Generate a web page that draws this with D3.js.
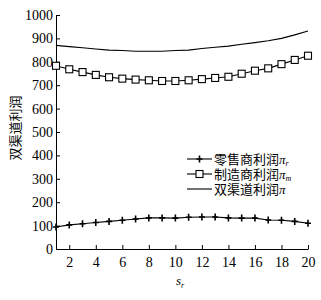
<!DOCTYPE html>
<html>
<head>
<meta charset="utf-8">
<script src="https://cdn.jsdelivr.net/npm/d3@7"></script>
<style>
  body { margin: 0; background: #fff; }
  svg text { font-family: "Liberation Serif", "Times New Roman", serif; }
</style>
</head>
<body>
<div id="chart-area"></div>
<script>
const sr = d3.range(1, 21);
const retail = [94, 103, 108, 113, 118, 123, 128, 133, 133, 132, 136, 137, 137, 133, 132, 132, 124, 123, 118, 110];
const manuf = [783, 768, 756, 744, 734, 728, 724, 721, 718, 718, 721, 726, 731, 736, 749, 762, 772, 790, 808, 826];
const total = [870, 865, 860, 855, 850, 848, 845, 845, 845, 848, 850, 857, 862, 867, 875, 882, 890, 900, 915, 932];
const xTicks = [2, 4, 6, 8, 10, 12, 14, 16, 18, 20];
const yTicks = [0, 100, 200, 300, 400, 500, 600, 700, 800, 900, 1000];
const legendNames = ["零售商利润", "制造商利润", "双渠道利润"];

const margin = { left: 56, right: 13, top: 15, bottom: 51 },
  width = 321 - margin.left - margin.right,
  height = 300 - margin.top - margin.bottom;

let svg = d3.select('#chart-area')
  .append('svg')
  .attr('width', 321)
  .attr('height', 300);

let g = svg.append('g')
  .attr('transform', `translate(${margin.left}, ${margin.top})`);

const x = d3.scaleLinear().domain([1, 20]).range([0, width]);
const y = d3.scaleLinear().domain([0, 1000]).range([height, 0]);

// axes, ticks pointing inward
g.append('g')
  .attr('transform', `translate(0,${height})`)
  .call(d3.axisBottom(x).tickValues(xTicks).tickSizeInner(-4).tickSizeOuter(0).tickPadding(8))
  .attr('font-family', null)
  .call(a => a.selectAll('text').attr('font-size', 14).attr('fill', '#000'));

g.append('g')
  .call(d3.axisLeft(y).tickValues(yTicks).tickFormat(d3.format('d')).tickSizeInner(-4).tickSizeOuter(0).tickPadding(3))
  .attr('font-family', null)
  .call(a => a.selectAll('text').attr('font-size', 14).attr('fill', '#000'));

g.selectAll('.domain, .tick line').attr('stroke', '#000').attr('stroke-width', 1);

const line = d3.line().x((d, i) => x(sr[i])).y(d => y(d));

[retail, manuf, total].forEach(s => {
  g.append('path')
    .attr('d', line(s))
    .attr('fill', 'none')
    .attr('stroke', '#000')
    .attr('stroke-width', 1.1);
});

function plus(sel, cx, cy) {
  sel.append('path')
    .attr('d', `M${cx - 3},${cy}H${cx + 3}M${cx},${cy - 3.5}V${cy + 3.5}`)
    .attr('stroke', '#000')
    .attr('stroke-width', 1.6);
}
function square(sel, cx, cy) {
  sel.append('rect')
    .attr('x', cx - 3.5).attr('y', cy - 3.5)
    .attr('width', 7).attr('height', 7)
    .attr('fill', '#fff')
    .attr('stroke', '#000')
    .attr('stroke-width', 1.1);
}

retail.forEach((d, i) => plus(g, x(sr[i]), y(d)));
manuf.forEach((d, i) => square(g, x(sr[i]), y(d)));

// y label
svg.append('text')
  .attr('transform', 'translate(20,128) rotate(-90)')
  .attr('text-anchor', 'middle')
  .attr('font-size', 13)
  .style('font-family', '"Noto Sans CJK SC", serif')
  .text('双渠道利润');

// x label
const xl = svg.append('text')
  .attr('x', 176).attr('y', 285)
  .attr('font-size', 13)
  .attr('font-style', 'italic');
xl.append('tspan').text('s');
xl.append('tspan').attr('font-size', 8).attr('dy', 3).text('r');

// legend
const legend = svg.append('g').attr('transform', 'translate(187,159)');
const subs = ['r', 'm', ''];
legendNames.forEach((name, i) => {
  const ly = i * 15;
  const row = legend.append('g');
  row.append('line')
    .attr('x1', 0).attr('x2', 25).attr('y1', ly).attr('y2', ly)
    .attr('stroke', '#000').attr('stroke-width', 1.1);
  if (i === 0) plus(row, 12.5, ly);
  if (i === 1) square(row, 12.5, ly);
  const t = row.append('text')
    .attr('x', 27).attr('y', ly + 5)
    .attr('font-size', 13);
  t.append('tspan').style('font-family', '"Noto Sans CJK SC", serif').text(name);
  t.append('tspan').attr('font-style', 'italic').text('π');
  if (subs[i]) t.append('tspan').attr('font-style', 'italic').attr('font-size', 8).attr('dy', 2).text(subs[i]);
});
</script>
</body>
</html>
